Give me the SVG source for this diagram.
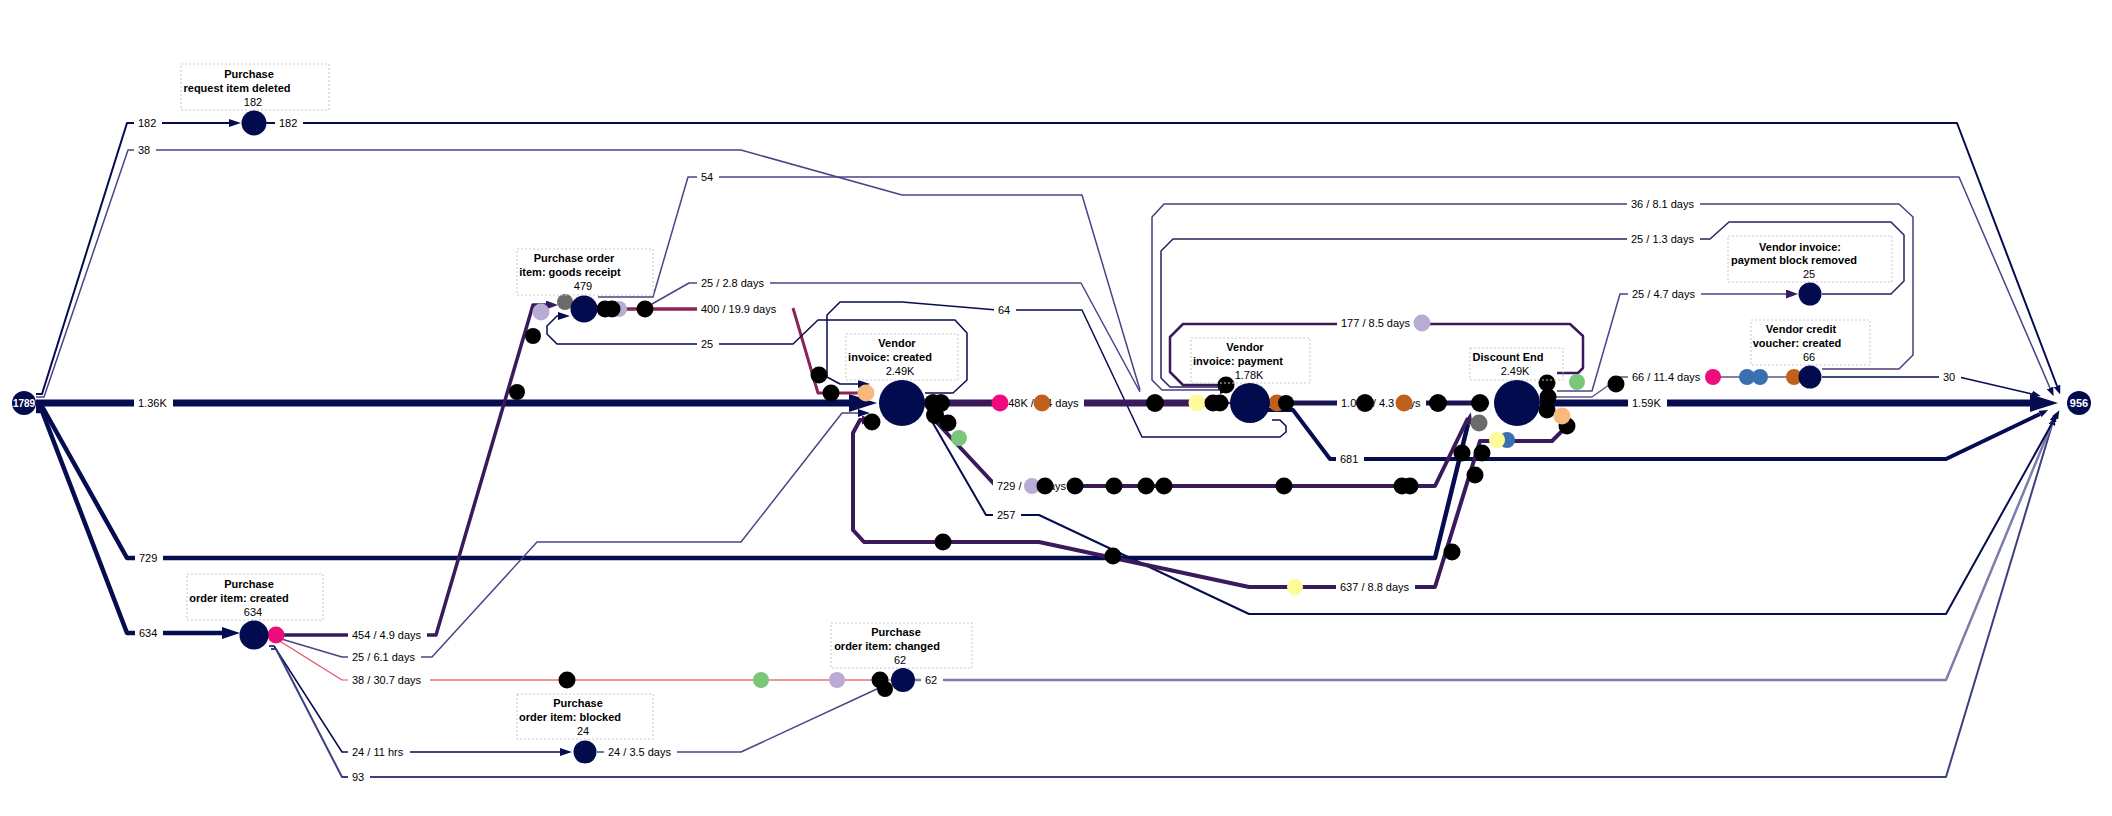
<svg xmlns="http://www.w3.org/2000/svg" width="2112" height="816" viewBox="0 0 2112 816">
<style>
.c{fill:none;stroke-linejoin:round;stroke-linecap:butt}
.nv{stroke:#050c50}
.dp{stroke:#3b1a5c}
.tp{stroke:#4b4386}
.mr{stroke:#8c2455}
.lb{fill:#fff}
text{font-family:"Liberation Sans",Arial,Helvetica,sans-serif;font-size:11px;fill:#000;dominant-baseline:central}
.nt{font-weight:bold;text-anchor:middle}
.ct{text-anchor:middle}
.wt{fill:#fff;font-weight:bold;text-anchor:middle;font-size:10px}
.box{fill:none;stroke:#c8c8c8;stroke-dasharray:2 2;stroke-width:1}
.nd{fill:#030b4f}
.k{fill:#000}
.pk{fill:#ee0c7c}
.or{fill:#c0601c}
.pc{fill:#f8b97e}
.lv{fill:#b9acd4}
.gy{fill:#6b6b6b}
.gr{fill:#7cc67c}
.yl{fill:#fdfb98}
.bl{fill:#3a6fb0}
</style>
<defs>
<marker id="aL" markerUnits="userSpaceOnUse" markerWidth="28" markerHeight="18" refX="0" refY="9" orient="auto"><path d="M0,0 L28,9 L0,18 z" fill="#050c50"/></marker>
<marker id="aP" markerUnits="userSpaceOnUse" markerWidth="18" markerHeight="14" refX="0" refY="7" orient="auto"><path d="M0,0 L18,7 L0,14 z" fill="#3b1a5c"/></marker>
<marker id="an" markerUnits="userSpaceOnUse" markerWidth="12" markerHeight="8" refX="0" refY="4" orient="auto"><path d="M0,0 L12,4 L0,8 z" fill="#050c50"/></marker>
<marker id="aM" markerUnits="userSpaceOnUse" markerWidth="18" markerHeight="12" refX="0" refY="6" orient="auto"><path d="M0,0 L18,6 L0,12 z" fill="#050c50"/></marker>
<marker id="ap" markerUnits="userSpaceOnUse" markerWidth="12" markerHeight="9" refX="0" refY="4.5" orient="auto"><path d="M0,0 L12,4.5 L0,9 z" fill="#3b1a5c"/></marker>
<marker id="as" markerUnits="userSpaceOnUse" markerWidth="9" markerHeight="7" refX="0" refY="3.5" orient="auto"><path d="M0,0 L9,3.5 L0,7 z" fill="#050c50"/></marker>
</defs>

<g id="connectors">
<path class="c nv" stroke-width="7" d="M36,403 H849" marker-end="url(#aL)"/>
<path class="c nv" stroke-width="2" d="M36,394 H42 L127,123 H229" marker-end="url(#an)"/>
<path class="c nv" stroke-width="2" d="M266,123 H1957 L2057,386" marker-end="url(#as)"/>
<path class="c tp" stroke-width="1.5" d="M36,397 H44 L128,150 H741 L902,195 H1082 L1140,390"/>
<path class="c nv" stroke-width="4.5" d="M36,408 H43 L127,558 H1435 L1468,424" marker-end="url(#ap)"/>
<path class="c nv" stroke-width="4.5" d="M36,411 H42 L127,633 H222" marker-end="url(#aM)"/>
<path class="c dp" stroke-width="3.5" d="M280,635 H436 L533,305 H546" marker-end="url(#ap)"/>
<path class="c tp" stroke-width="1.5" d="M278,638 L342,657 H432 L537,542 H741 L842,413 H858" marker-end="url(#an)"/>
<path class="c" stroke="#ec4d67" stroke-width="1.2" d="M278,640 L342,680 H350"/>
<path class="c" stroke="#f2939f" stroke-width="2.2" d="M430,680 H891"/>
<path class="c nv" stroke-width="1.5" d="M269,646 H274 L342,752 H560" marker-end="url(#an)"/>
<path class="c" stroke="#3c4080" stroke-width="2" d="M271,649 H276 L342,777 H1946 L2052,425" marker-end="url(#as)"/>
<path class="c tp" stroke-width="1.5" d="M597,752 H741 L879,688"/>
<path class="c" stroke="#7c7eaa" stroke-width="2.5" d="M915,680 H1946 L2053,421" marker-end="url(#as)"/>
<path class="c tp" stroke-width="1.5" d="M598,297 H653 L688,177 H1959 L2050,388" marker-end="url(#as)"/>
<path class="c tp" stroke-width="1.5" d="M645,308 L689,283 H1081 L1140,392"/>
<path class="c mr" stroke-width="3.5" d="M598,309 H700"/>
<path class="c mr" stroke-width="3" d="M793,308 L818,393 H860"/>
<path class="c nv" stroke-width="1.5" d="M925,393 H953 L967,380 V333 L955,320 H818 L793,344 H557 L547,334 V326 L557,316 H558" marker-end="url(#an)"/>
<path class="c nv" stroke-width="1.5" d="M1272,420 H1280 L1286,426 V432 L1280,437 H1142 L1082,310 H997 L902,302 H840 L827,315 V377 L840,384 H858" marker-end="url(#an)"/>
<path class="c dp" stroke-width="7" d="M925,403 H1214" marker-end="url(#aP)"/>
<path class="c" stroke="#1c1450" stroke-width="5" d="M1270,403 H1478" marker-end="url(#ap)"/>
<path class="c nv" stroke-width="7" d="M1540,403 H2030" marker-end="url(#aL)"/>
<path class="c nv" stroke-width="4" d="M1268,410 H1293 L1330,459 H1946 L2040,414" marker-end="url(#as)"/>
<path class="c dp" stroke-width="4" d="M928,413 L996,486 H1435 L1468,418"/>
<path class="c nv" stroke-width="2" d="M930,418 L986,515 H1039 L1249,614 H1946 L2055,418" marker-end="url(#as)"/>
<path class="c dp" stroke-width="4" d="M1567,426 L1552,441 H1480 L1435,587 H1249 L1039,542 H864 L853,530 V433 L860,420 H862" marker-end="url(#ap)"/>
<path class="c" stroke="#4d3c7c" stroke-width="1.5" d="M1822,369 H1899 L1913,355 V217 L1899,204 H1164 L1152,217 V380 L1162,390 H1220" marker-end="url(#an)"/>
<path class="c" stroke="#232560" stroke-width="1.5" d="M1822,294 H1891 L1904,281 V235 L1891,222 H1729 L1710,239 H1173 L1161,251 V378 L1170,387 H1220" marker-end="url(#an)"/>
<path class="c dp" stroke-width="2.5" d="M1557,373 H1578 L1583,368 V336 L1570,324 H1183 L1170,337 V372 L1183,385 H1218" marker-end="url(#ap)"/>
<path class="c tp" stroke-width="1.5" d="M1557,391 H1592 L1620,294 H1786" marker-end="url(#ap)"/>
<path class="c" stroke="#6f4f80" stroke-width="1.5" d="M1553,397 H1592 L1620,377 H1798"/>
<path class="c nv" stroke-width="1.5" d="M1822,377 H1959 L2032,394" marker-end="url(#as)"/>
</g>

<g id="edge-labels">
<rect class="lb" x="134" y="116" width="28" height="14"/><text x="138" y="123">182</text>
<rect class="lb" x="275" y="116" width="28" height="14"/><text x="279" y="123">182</text>
<rect class="lb" x="134" y="143" width="22" height="14"/><text x="138" y="150">38</text>
<rect class="lb" x="134" y="396" width="39" height="14"/><text x="138" y="403">1.36K</text>
<rect class="lb" x="135" y="551" width="28" height="14"/><text x="139" y="558">729</text>
<rect class="lb" x="135" y="626" width="28" height="14"/><text x="139" y="633">634</text>
<rect class="lb" x="348" y="628" width="79" height="14"/><text x="352" y="635">454 / 4.9 days</text>
<rect class="lb" x="348" y="650" width="73" height="14"/><text x="352" y="657">25 / 6.1 days</text>
<rect class="lb" x="348" y="673" width="79" height="14"/><text x="352" y="680">38 / 30.7 days</text>
<rect class="lb" x="348" y="745" width="62" height="14"/><text x="352" y="752">24 / 11 hrs</text>
<rect class="lb" x="348" y="770" width="22" height="14"/><text x="352" y="777">93</text>
<rect class="lb" x="604" y="745" width="73" height="14"/><text x="608" y="752">24 / 3.5 days</text>
<rect class="lb" x="921" y="673" width="22" height="14"/><text x="925" y="680">62</text>
<rect class="lb" x="697" y="170" width="22" height="14"/><text x="701" y="177">54</text>
<rect class="lb" x="697" y="276" width="73" height="14"/><text x="701" y="283">25 / 2.8 days</text>
<rect class="lb" x="697" y="302" width="85" height="14"/><text x="701" y="309">400 / 19.9 days</text>
<rect class="lb" x="697" y="337" width="22" height="14"/><text x="701" y="344">25</text>
<rect class="lb" x="994" y="303" width="22" height="14"/><text x="998" y="310">64</text>
<rect class="lb" x="995" y="396" width="89" height="14"/><text x="999" y="403">1.48K / 4.4 days</text>
<rect class="lb" x="993" y="479" width="79" height="14"/><text x="997" y="486">729 / 2.9 days</text>
<rect class="lb" x="993" y="508" width="28" height="14"/><text x="997" y="515">257</text>
<rect class="lb" x="1627" y="197" width="73" height="14"/><text x="1631" y="204">36 / 8.1 days</text>
<rect class="lb" x="1627" y="232" width="73" height="14"/><text x="1631" y="239">25 / 1.3 days</text>
<rect class="lb" x="1337" y="316" width="79" height="14"/><text x="1341" y="323">177 / 8.5 days</text>
<rect class="lb" x="1628" y="287" width="73" height="14"/><text x="1632" y="294">25 / 4.7 days</text>
<rect class="lb" x="1628" y="370" width="79" height="14"/><text x="1632" y="377">66 / 11.4 days</text>
<rect class="lb" x="1337" y="396" width="89" height="14"/><text x="1341" y="403">1.04K / 4.3 days</text>
<rect class="lb" x="1336" y="452" width="28" height="14"/><text x="1340" y="459">681</text>
<rect class="lb" x="1336" y="580" width="79" height="14"/><text x="1340" y="587">637 / 8.8 days</text>
<rect class="lb" x="1628" y="396" width="39" height="14"/><text x="1632" y="403">1.59K</text>
<rect class="lb" x="1939" y="370" width="22" height="14"/><text x="1943" y="377">30</text>
</g>

<g id="events">
<circle class="pk" cx="276" cy="635" r="8.5"/>
<circle class="k" cx="517" cy="392" r="8"/>
<circle class="k" cx="533" cy="336" r="8"/>
<circle class="lv" cx="541" cy="312" r="8.5"/>
<circle class="gy" cx="565" cy="302" r="8"/>
<circle class="lv" cx="619" cy="309" r="8"/>
<circle class="k" cx="612" cy="309" r="8.5"/>
<circle class="k" cx="605" cy="309" r="8.5"/>
<circle class="k" cx="645" cy="309" r="8.5"/>
<circle class="k" cx="819" cy="375" r="8.5"/>
<circle class="k" cx="831" cy="393" r="8.5"/>
<circle class="pc" cx="866" cy="393" r="8.5"/>
<circle class="k" cx="872" cy="422" r="8.5"/>
<circle class="k" cx="933" cy="403" r="9"/>
<circle class="k" cx="941" cy="403" r="9"/>
<circle class="k" cx="935" cy="415" r="9"/>
<circle class="k" cx="948" cy="423" r="8.5"/>
<circle class="gr" cx="959" cy="438" r="8"/>
<circle class="pk" cx="1000" cy="403" r="8.5"/>
<circle class="or" cx="1042" cy="403" r="8.5"/>
<circle class="k" cx="1155" cy="403" r="9"/>
<circle class="yl" cx="1197" cy="403" r="8.5"/>
<circle class="k" cx="1213" cy="403" r="8.5"/>
<circle class="k" cx="1220" cy="403" r="8.5"/>
<circle class="k" cx="1226" cy="385" r="8.5"/>
<circle class="or" cx="1277" cy="403" r="8.5"/>
<circle class="k" cx="1286" cy="403" r="8"/>
<circle class="k" cx="1365" cy="403" r="9"/>
<circle class="or" cx="1404" cy="403" r="8.5"/>
<circle class="k" cx="1438" cy="403" r="9"/>
<circle class="k" cx="1480" cy="403" r="9"/>
<circle class="gy" cx="1479" cy="423" r="8.5"/>
<circle class="bl" cx="1507" cy="440" r="8"/>
<circle class="yl" cx="1497" cy="440" r="8"/>
<circle class="k" cx="1462" cy="453" r="8.5"/>
<circle class="k" cx="1482" cy="453" r="8.5"/>
<circle class="k" cx="1475" cy="475" r="8.5"/>
<circle class="k" cx="1452" cy="552" r="8.5"/>
<circle class="k" cx="1547" cy="383" r="8.5"/>
<circle class="k" cx="1548" cy="397" r="8.5"/>
<circle class="k" cx="1547" cy="410" r="8.5"/>
<circle class="k" cx="1567" cy="426" r="8.5"/>
<circle class="pc" cx="1562" cy="416" r="8.5"/>
<circle class="gr" cx="1577" cy="382" r="8"/>
<circle class="k" cx="1616" cy="384" r="8.5"/>
<circle class="lv" cx="1422" cy="323" r="8.5"/>
<circle class="pk" cx="1713" cy="377" r="8"/>
<circle class="bl" cx="1747" cy="377" r="8"/>
<circle class="bl" cx="1760" cy="377" r="8"/>
<circle class="or" cx="1794" cy="377" r="8"/>
<circle class="lv" cx="1032" cy="486" r="8"/>
<circle class="k" cx="1045" cy="486" r="8.5"/>
<circle class="k" cx="1075" cy="486" r="8.5"/>
<circle class="k" cx="1114" cy="486" r="8.5"/>
<circle class="k" cx="1146" cy="486" r="8.5"/>
<circle class="k" cx="1164" cy="486" r="8.5"/>
<circle class="k" cx="1284" cy="486" r="8.5"/>
<circle class="k" cx="1402" cy="486" r="8.5"/>
<circle class="k" cx="1410" cy="486" r="8.5"/>
<circle class="k" cx="943" cy="542" r="8.5"/>
<circle class="k" cx="1113" cy="556" r="8.5"/>
<circle class="yl" cx="1295" cy="587" r="8"/>
<circle class="k" cx="567" cy="680" r="8.5"/>
<circle class="gr" cx="761" cy="680" r="8"/>
<circle class="lv" cx="837" cy="680" r="8"/>
<circle class="k" cx="880" cy="680" r="8.5"/>
<circle class="k" cx="885" cy="689" r="8"/>
</g>

<g id="n-start"><circle class="nd" cx="24" cy="403" r="12"/><text class="wt" x="24" y="403">1789</text></g>
<g id="n-end"><circle class="nd" cx="2079" cy="403" r="12"/><text class="wt" x="2079" y="403" style="font-size:11px">956</text></g>

<g id="n-pr-deleted">
<rect class="box" x="181" y="64" width="148" height="46"/>
<text class="nt" x="249" y="74">Purchase</text>
<text class="nt" x="237" y="88">request item deleted</text>
<text class="ct" x="253" y="102">182</text>
<circle class="nd" cx="254" cy="123" r="12.5"/>
</g>
<g id="n-po-created">
<rect class="box" x="187" y="574" width="136" height="46"/>
<text class="nt" x="249" y="584">Purchase</text>
<text class="nt" x="239" y="598">order item: created</text>
<text class="ct" x="253" y="612">634</text>
<circle class="nd" cx="254" cy="635" r="14.5"/>
</g>
<g id="n-po-gr">
<rect class="box" x="517" y="249" width="136" height="46"/>
<text class="nt" x="574" y="258">Purchase order</text>
<text class="nt" x="570" y="272">item: goods receipt</text>
<text class="ct" x="583" y="286">479</text>
<circle class="nd" cx="584" cy="309" r="13.5"/>
</g>
<g id="n-vi-created">
<rect class="box" x="846" y="334" width="112" height="46"/>
<text class="nt" x="897" y="343">Vendor</text>
<text class="nt" x="890" y="357">invoice: created</text>
<text class="ct" x="900" y="371">2.49K</text>
<circle class="nd" cx="902" cy="403" r="23"/>
</g>
<g id="n-vi-payment">
<rect class="box" x="1191" y="338" width="119" height="45"/>
<text class="nt" x="1245" y="347">Vendor</text>
<text class="nt" x="1238" y="361">invoice: payment</text>
<text class="ct" x="1249" y="375">1.78K</text>
<circle class="nd" cx="1250" cy="403" r="20"/>
</g>
<g id="n-discount-end">
<rect class="box" x="1470" y="348" width="93" height="32"/>
<text class="nt" x="1508" y="357">Discount End</text>
<text class="ct" x="1515" y="371">2.49K</text>
<circle class="nd" cx="1517" cy="403" r="23"/>
</g>
<g id="n-vi-pbr">
<rect class="box" x="1728" y="236" width="164" height="46"/>
<text class="nt" x="1800" y="247">Vendor invoice:</text>
<text class="nt" x="1794" y="260">payment block removed</text>
<text class="ct" x="1809" y="274">25</text>
<circle class="nd" cx="1810" cy="294" r="11.5"/>
</g>
<g id="n-vcv-created">
<rect class="box" x="1751" y="320" width="119" height="45"/>
<text class="nt" x="1801" y="329">Vendor credit</text>
<text class="nt" x="1797" y="343">voucher: created</text>
<text class="ct" x="1809" y="357">66</text>
<circle class="nd" cx="1810" cy="377" r="11.5"/>
</g>
<g id="n-po-changed">
<rect class="box" x="831" y="623" width="141" height="45"/>
<text class="nt" x="896" y="632">Purchase</text>
<text class="nt" x="887" y="646">order item: changed</text>
<text class="ct" x="900" y="660">62</text>
<circle class="nd" cx="903" cy="680" r="12"/>
</g>
<g id="n-po-blocked">
<rect class="box" x="517" y="694" width="136" height="45"/>
<text class="nt" x="578" y="703">Purchase</text>
<text class="nt" x="570" y="717">order item: blocked</text>
<text class="ct" x="583" y="731">24</text>
<circle class="nd" cx="585" cy="752" r="11.5"/>
</g>
</svg>
